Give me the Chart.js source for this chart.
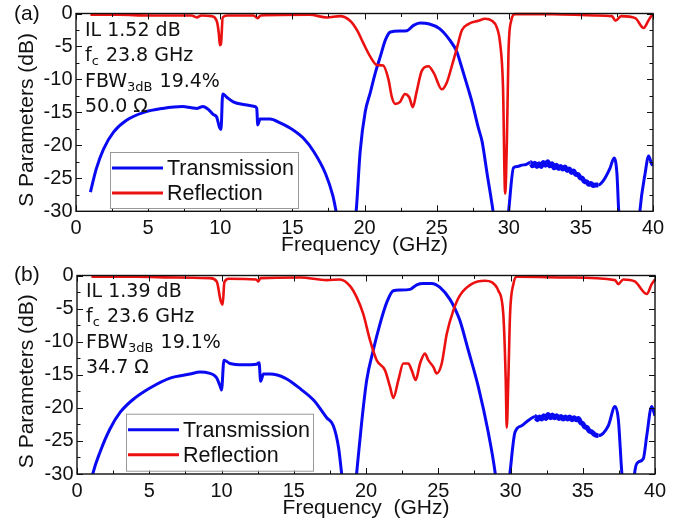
<!DOCTYPE html>
<html>
<head>
<meta charset="utf-8">
<script src="https://cdn.jsdelivr.net/npm/chart.js@4.4.1/dist/chart.umd.min.js"></script>
<style>
  html, body { margin: 0; padding: 0; background: #fff; }
  #wrap { position: relative; width: 690px; height: 527px; overflow: hidden; }
  #wrap canvas { position: absolute; left: 0; }
</style>
</head>
<body>
<div id="wrap">
  <canvas id="chartA" width="690" height="262" style="top:0"></canvas>
  <canvas id="chartB" width="690" height="265" style="top:262px"></canvas>
</div>
<script>
// axis ticks (GHz, dB)
const xTicks = [0, 5, 10, 15, 20, 25, 30, 35, 40];
const yTicks = [0, -5, -10, -15, -20, -25, -30];

// panel (a): 50.0 ohm filter
const freqA_s21 = [1.0, 1.4, 1.9, 2.6, 3.5, 4.7, 6.0, 7.4, 8.0, 8.4, 8.8, 9.2, 9.5, 9.75, 9.95, 10.05, 10.17, 10.45, 10.9, 11.6,
  12.4, 12.53, 12.6, 12.76, 13.45, 14.15, 15.0, 15.8, 16.5, 17.3, 17.8, 18.05, 18.3, 19.2, 19.42, 19.7, 20.05, 20.4, 20.75, 21.1,
  21.45, 21.8, 22.45, 22.95, 23.4, 23.85, 24.5, 25.2, 25.9, 26.4, 26.65, 27.2, 27.45, 27.9, 28.15, 28.5, 28.9, 29.1, 29.85, 30.0,
  30.33, 30.6, 30.9, 31.2, 31.5, 31.65, 31.8, 31.95, 32.1, 32.25, 32.4, 32.55, 32.7, 32.85, 33.0, 33.15, 33.3, 33.45, 33.6, 33.75,
  33.9, 34.05, 34.2, 34.35, 34.5, 34.65, 34.8, 34.95, 35.1, 35.25, 35.4, 35.55, 35.7, 35.85, 36.0, 36.2, 36.57, 37.03, 37.3, 37.5,
  37.62, 37.75, 39.0, 39.1, 39.45, 39.7, 39.92, 40.0];
const s21A = [-27.1, -23.6, -20.6, -18.0, -16.2, -15.0, -14.4, -14.1, -14.3, -14.4, -14.1, -14.6, -15.3, -15.7, -17.3, -17.6, -12.2, -12.7, -13.4, -13.8,
  -14.1, -14.4, -16.9, -16.0, -16.0, -16.6, -17.6, -19.0, -21.0, -24.3, -27.6, -30.2, -33, -33, -30.0, -20.9, -14.9, -12.0, -9.0, -6.5,
  -4.0, -2.8, -2.65, -2.6, -1.8, -1.45, -1.6, -2.3, -4.0, -5.8, -7.5, -11.5, -13.4, -17.4, -19.4, -24.3, -29.8, -33, -33, -29.8,
  -23.4, -23.2, -23.0, -22.9, -22.6, -23.1, -22.7, -23.2, -22.8, -23.2, -22.6, -23.0, -22.5, -23.1, -22.8, -23.4, -23.0, -23.5, -23.2, -23.6,
  -23.3, -23.8, -23.6, -24.1, -23.9, -24.4, -24.4, -24.9, -25.0, -25.5, -25.5, -25.9, -25.8, -26.1, -26.0, -26.0, -25.3, -23.4, -21.9, -24.3,
  -29.8, -33, -33, -29.8, -24.3, -21.6, -22.9, -23.0];

const freqA_s11 = [1.0, 3.0, 5.0, 7.0, 8.0, 8.37, 8.7, 9.4, 9.75, 9.9, 9.97, 10.05, 10.17, 10.5, 12.3, 12.6, 12.8, 16.2, 17.4, 18.3,
  19.0, 19.5, 19.92, 20.39, 20.85, 21.3, 21.66, 21.9, 22.12, 22.47, 22.8, 23.1, 23.35, 23.6, 23.97, 24.43, 24.8, 25.36, 25.7, 26.05,
  26.4, 26.75, 27.2, 27.9, 28.36, 28.83, 29.17, 29.4, 29.6, 29.75, 29.87, 29.98, 30.17, 30.44, 33.0, 36.0, 37.15, 37.4, 37.8, 38.77,
  39.35, 39.7, 39.92, 40.0];
const s11A = [-0.2, -0.2, -0.3, -0.3, -0.3, -0.6, -0.3, -0.4, -1.1, -3.0, -4.8, -4.6, -0.6, -0.3, -0.3, -0.7, -0.3, -0.2, -0.6, -0.4,
  -1.1, -2.6, -4.5, -6.5, -7.8, -7.9, -10.0, -12.7, -13.7, -13.4, -12.2, -12.7, -14.2, -12.0, -8.7, -8.0, -9.0, -11.5, -10.5, -8.0,
  -5.3, -2.55, -1.6, -1.1, -0.8, -1.1, -2.1, -4.5, -11.0, -27.3, -19.5, -6.0, -1.1, -0.1, -0.1, -0.3, -0.4, -1.1, -0.4, -0.7,
  -2.2, -1.0, -0.3, -0.2];

// panel (b): 34.7 ohm filter
const freqB_s21 = [1.0, 1.1, 1.59, 2.28, 2.98, 3.9, 5.05, 6.44, 7.82, 8.51, 9.2, 9.5, 9.67, 9.9, 10.0, 10.17, 10.59, 11.5, 12.43, 12.6,
  12.71, 12.9, 13.36, 14.4, 15.5, 16.4, 17.28, 17.74, 18.1, 18.3, 18.45, 19.2, 19.36, 19.7, 20.05, 20.5, 20.97, 21.43, 21.89, 22.35,
  23.05, 23.51, 23.97, 24.55, 25.12, 25.81, 26.28, 26.5, 27.08, 27.77, 28.46, 28.93, 29.1, 29.8, 29.97, 30.31, 30.77, 31.3, 31.7, 31.85,
  32.0, 32.15, 32.3, 32.45, 32.6, 32.75, 32.9, 33.05, 33.2, 33.35, 33.5, 33.65, 33.8, 33.95, 34.1, 34.25, 34.4, 34.55, 34.7, 34.85,
  35.0, 35.15, 35.3, 35.45, 35.6, 35.8, 36.08, 36.77, 37.23, 37.46, 37.7, 37.85, 38.5, 38.6, 38.84, 39.19, 39.43, 39.77, 40.0];
const s21B = [-31.0, -29.9, -26.7, -23.2, -20.7, -18.7, -17.0, -15.5, -14.9, -14.6, -14.8, -15.1, -15.5, -16.7, -17.3, -12.8, -13.3, -13.5, -13.4, -13.2,
  -16.0, -14.9, -14.9, -15.5, -17.2, -18.9, -21.5, -22.7, -26.0, -29.7, -33, -33, -29.7, -22.2, -15.8, -11.3, -7.3, -4.1, -2.3, -2.2,
  -2.1, -1.4, -1.2, -1.2, -1.8, -3.6, -5.6, -6.8, -11.3, -16.8, -23.7, -29.7, -33, -33, -29.7, -23.7, -22.7, -21.8, -21.3, -21.8,
  -21.4, -21.7, -21.2, -21.6, -21.0, -21.5, -21.1, -21.5, -21.2, -21.6, -21.3, -21.7, -21.4, -21.7, -21.4, -21.8, -21.5, -21.8, -21.6, -22.2,
  -22.4, -22.9, -23.0, -23.5, -23.6, -24.0, -24.2, -22.7, -19.8, -21.7, -29.7, -33, -33, -29.7, -28.2, -27.7, -24.2, -19.8, -21.2];

const freqB_s11 = [1.0, 4.0, 7.0, 9.2, 9.67, 9.94, 10.08, 10.2, 10.5, 12.4, 12.55, 12.7, 15.43, 17.28, 18.2, 18.9, 19.36, 19.81, 20.28, 20.74,
  21.31, 21.66, 21.89, 22.24, 22.58, 22.93, 23.16, 23.44, 23.74, 24.08, 24.31, 24.66, 24.89, 25.24, 25.59, 26.04, 26.5, 27.3, 28.24, 28.7,
  29.16, 29.5, 29.67, 29.74, 29.85, 29.97, 30.2, 30.43, 34.0, 37.23, 37.46, 37.8, 38.6, 39.43, 39.77, 40.0];
const s11B = [-0.2, -0.2, -0.3, -0.4, -0.9, -3.8, -4.4, -1.0, -0.5, -0.6, -0.9, -0.4, -0.3, -0.7, -0.6, -1.6, -3.3, -5.8, -9.8, -12.8,
  -14.3, -16.8, -18.5, -15.8, -13.3, -13.3, -14.3, -15.8, -13.3, -11.8, -12.8, -13.8, -14.8, -13.3, -8.8, -5.3, -3.0, -1.3, -0.8, -1.0,
  -2.3, -5.8, -15.8, -23.0, -15.8, -5.8, -1.3, -0.2, -0.3, -0.7, -1.3, -0.6, -0.9, -2.8, -1.3, -0.6];

// figures of merit printed in each panel ("_" marks a subscript run)
const notesA = [['IL 1.52 dB'], ['f', '_c', ' 23.8 GHz'], ['FBW', '_3dB', ' 19.4%'], ['50.0 Ω']];
const notesB = [['IL 1.39 dB'], ['f', '_c', ' 23.6 GHz'], ['FBW', '_3dB', ' 19.1%'], ['34.7 Ω']];

const BLUE = '#0a0af2';
const RED = '#ec1111';
const AXIS_FONT = 'Liberation Sans, Arial, sans-serif';
const NOTE_FONT = 'DejaVu Sans, Verdana, sans-serif';

function pairs(xs, ys) {
  return xs.map((x, i) => ({ x: x, y: ys[i] }));
}

// box, inward ticks on all four sides
const frameTicks = {
  id: 'frameTicks',
  afterDatasetsDraw(chart) {
    const { ctx, chartArea: a, scales: { x, y } } = chart;
    ctx.save();
    ctx.strokeStyle = '#111';
    ctx.lineWidth = 1;
    ctx.beginPath();
    for (let v = 0; v <= 40; v += 2.5) {
      const px = Math.round(x.getPixelForValue(v)) + 0.5;
      const len = v % 5 === 0 ? 6 : 3.5;
      ctx.moveTo(px, a.bottom); ctx.lineTo(px, a.bottom - len);
      ctx.moveTo(px, a.top); ctx.lineTo(px, a.top + len);
    }
    for (let v = 0; v >= -30; v -= 2.5) {
      const py = Math.round(y.getPixelForValue(v)) + 0.5;
      const len = v % 5 === 0 ? 6 : 3.5;
      ctx.moveTo(a.left, py); ctx.lineTo(a.left + len, py);
      ctx.moveTo(a.right, py); ctx.lineTo(a.right - len, py);
    }
    ctx.stroke();
    ctx.lineWidth = 1.4;
    ctx.strokeRect(a.left, a.top, a.right - a.left, a.bottom - a.top);
    ctx.restore();
  }
};

// panel letter, y title, figures of merit, boxed legend
const panelText = {
  id: 'panelText',
  afterDraw(chart, args, opts) {
    const { ctx, chartArea: a } = chart;
    ctx.save();
    ctx.fillStyle = '#111';
    ctx.textBaseline = 'middle';
    ctx.textAlign = 'left';
    ctx.font = '21px ' + AXIS_FONT;
    ctx.fillText(opts.letter, 14, opts.letterY);

    // y title sits a little below the plot's middle
    ctx.save();
    ctx.translate(27, (a.top + a.bottom) / 2 + opts.yTitleShift);
    ctx.rotate(-Math.PI / 2);
    ctx.textAlign = 'center';
    ctx.font = '21px ' + AXIS_FONT;
    ctx.fillText('S Parameters (dB)', 0, 0);
    ctx.restore();

    ctx.textBaseline = 'alphabetic';
    opts.notes.forEach((row, i) => {
      let tx = a.left + 9;
      const base = a.top + opts.noteTop + i * 25.5;
      row.forEach(seg => {
        const sub = seg.startsWith('_');
        const txt = sub ? seg.slice(1) : seg;
        ctx.font = (sub ? '13px ' : '19px ') + NOTE_FONT;
        ctx.fillText(txt, tx, sub ? base + 4 : base);
        tx += ctx.measureText(txt).width + (sub ? 1 : 0);
      });
    });

    const L = opts.legend;
    ctx.fillStyle = '#fff';
    ctx.fillRect(L.x, L.y, L.w, L.h);
    ctx.strokeStyle = '#999';
    ctx.lineWidth = 1;
    ctx.strokeRect(L.x + 0.5, L.y + 0.5, L.w, L.h);
    ctx.font = '21.5px ' + AXIS_FONT;
    ctx.textBaseline = 'middle';
    const items = chart.data.datasets.slice().sort((p, q) => q.order - p.order);
    items.forEach((ds, i) => {
      const ly = L.y + 16 + i * 25;
      ctx.strokeStyle = ds.borderColor;
      ctx.lineWidth = 3;
      ctx.beginPath();
      ctx.moveTo(L.x + 2, ly);
      ctx.lineTo(L.x + 53, ly);
      ctx.stroke();
      ctx.fillStyle = '#111';
      ctx.fillText(ds.label, L.x + 57, ly + 1);
    });
    ctx.restore();
  }
};

function buildChart(id, f21, s21, f11, s11, panel) {
  const ctx = document.getElementById(id).getContext('2d');
  // the 31-36 GHz stopband trace is a noisy, heavier band
  const band = panel.band;
  return new Chart(ctx, {
    type: 'scatter',
    data: {
      datasets: [{
        label: 'Transmission',
        data: pairs(f21, s21),
        showLine: true,
        borderColor: BLUE,
        borderWidth: 3,
        pointRadius: 0,
        cubicInterpolationMode: 'monotone',
        clip: { left: 0, right: 0, top: 3, bottom: 0 },
        segment: {
          borderWidth: c => (c.p0.parsed.x >= band[0] && c.p1.parsed.x <= band[1]) ? 5 : undefined
        },
        order: 2
      }, {
        label: 'Reflection',
        data: pairs(f11, s11),
        showLine: true,
        borderColor: RED,
        borderWidth: 2.6,
        pointRadius: 0,
        cubicInterpolationMode: 'monotone',
        clip: { left: 0, right: 0, top: 3, bottom: 0 },
        order: 1
      }]
    },
    options: {
      responsive: false,
      animation: false,
      events: [],
      layout: { padding: { top: panel.top, right: panel.right, bottom: 0, left: 0 } },
      plugins: {
        legend: { display: false },
        tooltip: { enabled: false },
        panelText: panel
      },
      scales: {
        x: {
          type: 'linear',
          min: 0,
          max: 40,
          afterBuildTicks: s => { s.ticks = xTicks.map(v => ({ value: v })); },
          afterFit: s => { s.height = panel.xAxisH; },
          grid: { display: false, drawTicks: false },
          border: { display: false },
          ticks: { color: '#111', padding: 7.5, maxRotation: 0, font: { family: AXIS_FONT, size: 20, lineHeight: 1 } },
          title: {
            display: true,
            text: 'Frequency  (GHz)',
            color: '#111',
            font: { family: AXIS_FONT, size: 21 },
            padding: { top: 0, bottom: panel.xTitlePad }
          }
        },
        y: {
          type: 'linear',
          min: -30,
          max: 0,
          afterBuildTicks: s => { s.ticks = yTicks.map(v => ({ value: v })); },
          afterFit: s => { s.width = panel.yAxisW; },
          grid: { display: false, drawTicks: false },
          border: { display: false },
          ticks: { color: '#111', padding: 3.5, font: { family: AXIS_FONT, size: 20, lineHeight: 1 } }
        }
      }
    },
    plugins: [frameTicks, panelText]
  });
}

buildChart('chartA', freqA_s21, s21A, freqA_s11, s11A, {
  top: 9.5, right: 37, xAxisH: 50.7, yAxisW: 76, xTitlePad: 4,
  letter: '(a)', letterY: 14, yTitleShift: 7.5, notes: notesA, noteTop: 22.2,
  legend: { x: 110, y: 152, w: 188, h: 56 }, band: [31.4, 36.3]
});

buildChart('chartB', freqB_s21, s21B, freqB_s11, s11B, {
  top: 10.5, right: 35, xAxisH: 53, yAxisW: 77, xTitlePad: 6,
  letter: '(b)', letterY: 13, yTitleShift: 6.5, notes: notesB, noteTop: 21.2,
  legend: { x: 126, y: 151.7, w: 187, h: 57 }, band: [31.6, 36.2]
});
</script>
</body>
</html>
